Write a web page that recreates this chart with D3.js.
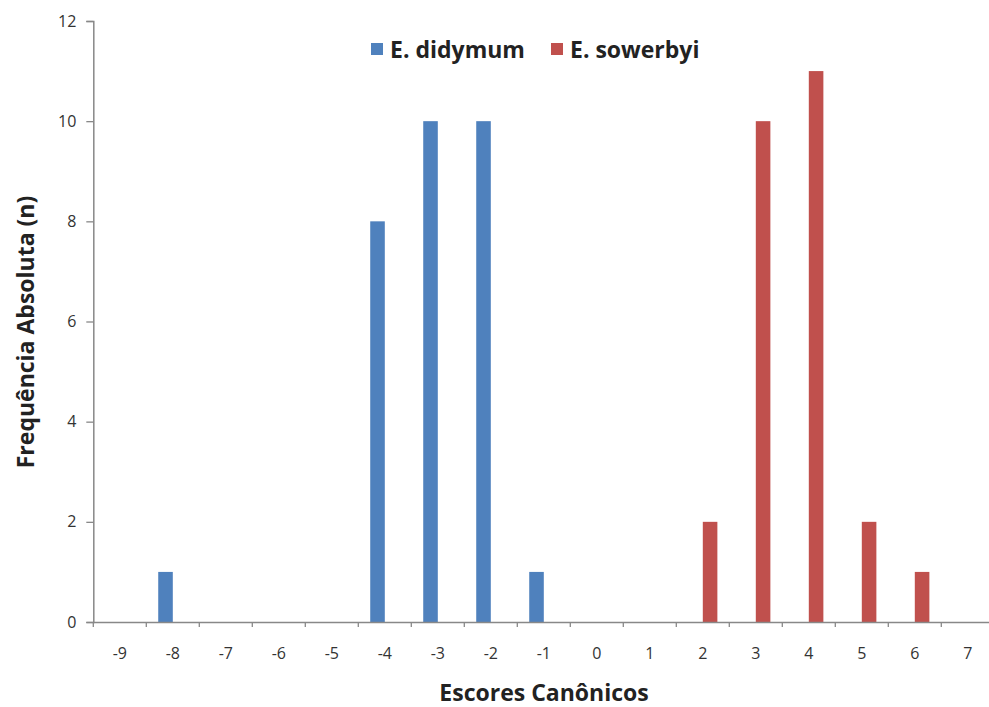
<!DOCTYPE html>
<html><head><meta charset="utf-8">
<script src="https://cdn.jsdelivr.net/npm/d3@7"></script>
<style>body{margin:0;background:#fff}svg{display:block}text{font-family:"Open Sans",Lato,sans-serif}</style>
</head><body><svg id="c" width="989" height="707"></svg>
<script>
const categories = [-9,-8,-7,-6,-5,-4,-3,-2,-1,0,1,2,3,4,5,6,7];
const didymum  = [0,1,0,0,0,8,10,10,1,0,0,0,0,0,0,0,0];
const sowerbyi = [0,0,0,0,0,0,0,0,0,0,0,2,10,11,2,1,0];
const yTicks = [0,2,4,6,8,10,12];
const seriesNames = ["E. didymum","E. sowerbyi"];
const colors = ["#4F81BD","#C0504D"];

const svg = d3.select("#c");
const m = {l:93.3, r:994.3, t:21, b:622};
const x = d3.scaleBand().domain(categories).range([m.l, m.r]).padding(0);
const y = d3.scaleLinear().domain([0,12]).range([m.b, m.t]);
const bw = x.bandwidth()*0.275;

// axes
const yAx = svg.append("g").attr("transform",`translate(${m.l},0)`)
  .call(d3.axisLeft(y).tickValues(yTicks).tickSize(7).tickPadding(10));
const xAx = svg.append("g").attr("transform",`translate(0,${m.b})`)
  .call(d3.axisBottom(x).tickSize(0).tickPadding(26));
[yAx,xAx].forEach(g=>{
  g.select(".domain").attr("stroke","#888").attr("stroke-width",1.5);
  g.selectAll(".tick line").attr("stroke","#888").attr("stroke-width",1.3);
  g.selectAll(".tick text").attr("fill","#333").attr("font-size",16).attr("font-family","'Open Sans',Lato,sans-serif");
});
// category boundary ticks
xAx.selectAll(".btick").data(categories).enter().append("line")
  .attr("x1",d=> x(d)).attr("x2",d=> x(d))
  .attr("y1",0).attr("y2",5).attr("stroke","#888").attr("stroke-width",1.3);

// bars
const bars = svg.append("g");
[didymum, sowerbyi].forEach((vals, s)=>{
  bars.selectAll(".b"+s).data(vals.map((v,i)=>({c:categories[i],v})).filter(d=>d.v>0))
    .enter().append("rect")
    .attr("x", d=> x(d.c)+x.bandwidth()/2 - (s===0?bw:0))
    .attr("y", d=> y(d.v))
    .attr("width", bw)
    .attr("height", d=> y(0)-y(d.v))
    .attr("fill", colors[s]);
});
xAx.raise();

// axis titles
svg.append("text").attr("x",544).attr("y",701).attr("text-anchor","middle")
  .attr("font-size",23).attr("font-weight","bold").attr("fill","#222").text("Escores Canônicos");
svg.append("text").attr("transform","translate(34,332) rotate(-90)").attr("text-anchor","middle")
  .attr("font-size",23).attr("font-weight","bold").attr("fill","#222").text("Frequência Absoluta (n)");

// legend
const lg = svg.append("g");
const lx = [371, 551];
seriesNames.forEach((n,i)=>{
  lg.append("rect").attr("x",lx[i]).attr("y",43).attr("width",12).attr("height",12).attr("fill",colors[i]);
  lg.append("text").attr("x",lx[i]+19).attr("y",58).attr("font-size",23).attr("font-weight","bold")
    .attr("fill","#222").text(n);
});
</script></body></html>
